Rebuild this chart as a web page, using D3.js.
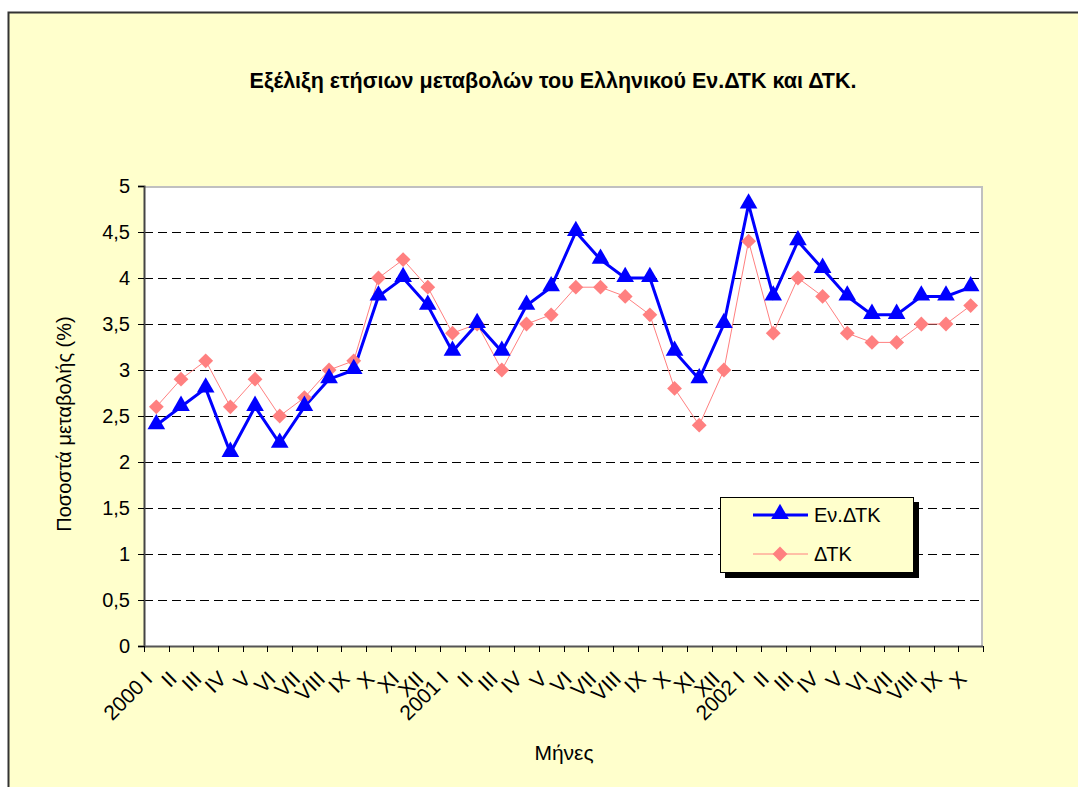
<!DOCTYPE html>
<html>
<head>
<meta charset="utf-8">
<script src="https://cdn.jsdelivr.net/npm/d3@7"></script>
<style>
  body { margin: 0; background: #fff; }
  text { font-family: "Liberation Sans", Arial, sans-serif; fill: #000; }
</style>
</head>
<body>
<div id="chart"></div>
<script>
const width = 1078;
const height = 787;

// month labels (roman numerals) and the year on the first month
const years = ['2000', '2001', '2002'];
const months = ['I', 'II', 'III', 'IV', 'V', 'VI', 'VII', 'VIII', 'IX', 'X', 'XI', 'XII'];
const categories = [];
years.forEach(function (yr, k) {
  const n = k == 2 ? 10 : 12;
  for (let m = 0; m < n; m++) categories.push(m == 0 ? yr + ' ' + months[m] : months[m]);
});

// Εν.ΔΤΚ
const enDTK = [2.4, 2.6, 2.8, 2.1, 2.6, 2.2, 2.6, 2.9, 3.0, 3.8, 4.0, 3.7,
  3.2, 3.5, 3.2, 3.7, 3.9, 4.5, 4.2, 4.0, 4.0, 3.2, 2.9, 3.5,
  4.8, 3.8, 4.4, 4.1, 3.8, 3.6, 3.6, 3.8, 3.8, 3.9];
// ΔΤΚ
const dtk = [2.6, 2.9, 3.1, 2.6, 2.9, 2.5, 2.7, 3.0, 3.1, 4.0, 4.2, 3.9,
  3.4, 3.5, 3.0, 3.5, 3.6, 3.9, 3.9, 3.8, 3.6, 2.8, 2.4, 3.0,
  4.4, 3.4, 4.0, 3.8, 3.4, 3.3, 3.3, 3.5, 3.5, 3.7];

const yTicks = [0, 0.5, 1, 1.5, 2, 2.5, 3, 3.5, 4, 4.5, 5];

const plot = { left: 144, top: 186, right: 983, bottom: 646 };

const svg = d3.select('#chart').append('svg')
  .attr('width', width)
  .attr('height', height);

//outer frame
svg.append('rect')
  .attr('x', 8.5).attr('y', 12.5)
  .attr('width', 1200).attr('height', 900)
  .attr('fill', '#ffffcc')
  .attr('stroke', '#333').attr('stroke-width', 2);

//plot area
svg.append('rect')
  .attr('x', plot.left).attr('y', plot.top)
  .attr('width', plot.right - plot.left).attr('height', plot.bottom - plot.top)
  .attr('fill', '#fff');
svg.append('path')
  .attr('d', 'M' + plot.left + ',' + (plot.top + 1) + 'H' + (plot.right - 1) + 'V' + plot.bottom)
  .attr('fill', 'none').attr('stroke', '#c0c0c0').attr('stroke-width', 2);

//scales
const x = d3.scaleBand().domain(d3.range(categories.length)).range([plot.left, plot.right]);
const y = d3.scaleLinear().domain([0, 5]).range([plot.bottom, plot.top]);
const cx = i => x(i) + x.bandwidth() / 2;

//gridlines
svg.append('g').selectAll('line')
  .data(yTicks.filter(d => d > 0 && d < 5))
  .enter().append('line')
  .attr('x1', plot.left).attr('x2', plot.right - 2)
  .attr('y1', d => Math.round(y(d)) + 0.5).attr('y2', d => Math.round(y(d)) + 0.5)
  .attr('stroke', '#000').attr('stroke-dasharray', '9,5');

//y axis
const yAxis = svg.append('g')
  .attr('transform', 'translate(' + plot.left + ',0)')
  .call(d3.axisLeft(y).tickValues(yTicks).tickSize(6).tickPadding(8)
    .tickFormat(d => String(d).replace('.', ',')));
yAxis.select('.domain').attr('stroke', '#444').attr('stroke-width', 2);
yAxis.selectAll('.tick line').attr('stroke', '#000');
yAxis.selectAll('text').style('font-size', '20px')
  .style('font-family', '"Liberation Sans", Arial, sans-serif');

//x axis
const xg = svg.append('g');
xg.append('line')
  .attr('x1', plot.left).attr('x2', plot.right)
  .attr('y1', plot.bottom + 0.5).attr('y2', plot.bottom + 0.5)
  .attr('stroke', '#555').attr('stroke-width', 2);
xg.selectAll('.xtick')
  .data(d3.range(categories.length + 1))
  .enter().append('line')
  .attr('class', 'xtick')
  .attr('x1', i => Math.round(i < categories.length ? x(i) : plot.right) + 0.5)
  .attr('x2', i => Math.round(i < categories.length ? x(i) : plot.right) + 0.5)
  .attr('y1', plot.bottom).attr('y2', plot.bottom + 6)
  .attr('stroke', '#000');
xg.selectAll('.xlabel')
  .data(categories)
  .enter().append('text')
  .attr('class', 'xlabel')
  .attr('transform', (d, i) => 'translate(' + (cx(i) - 8) + ',' + (plot.bottom + 29) + ') rotate(-45)')
  .attr('text-anchor', 'end')
  .attr('dy', '0.35em')
  .style('font-size', '21px')
  .text(d => d);

//lines
const line = d3.line().x((d, i) => cx(i)).y(d => y(d));

svg.append('path').datum(dtk)
  .attr('d', line).attr('fill', 'none')
  .attr('stroke', '#ff8080').attr('stroke-width', 1);
svg.append('path').datum(enDTK)
  .attr('d', line).attr('fill', 'none')
  .attr('stroke', '#0000ff').attr('stroke-width', 3);

const diamond = d3.symbol().type(d3.symbolSquare).size(110);
const triangle = d3.symbol().type(d3.symbolTriangle).size(135);

svg.append('g').selectAll('path')
  .data(dtk).enter().append('path')
  .attr('d', diamond)
  .attr('transform', (d, i) => 'translate(' + cx(i) + ',' + y(d) + ') rotate(45)')
  .attr('fill', '#ff8080');
svg.append('g').selectAll('path')
  .data(enDTK).enter().append('path')
  .attr('d', triangle)
  .attr('transform', (d, i) => 'translate(' + cx(i) + ',' + (y(d) - 1) + ')')
  .attr('fill', '#0000ff');

//title
svg.append('text')
  .attr('x', 553).attr('y', 88)
  .attr('text-anchor', 'middle')
  .style('font-size', '21.5px').style('font-weight', 'bold')
  .text('Εξέλιξη ετήσιων μεταβολών του Ελληνικού Εν.ΔΤΚ και ΔΤΚ.');

//axis titles
svg.append('text')
  .attr('transform', 'translate(71,' + 424 + ') rotate(-90)')
  .attr('text-anchor', 'middle')
  .style('font-size', '20px')
  .text('Ποσοστά μεταβολής (%)');
svg.append('text')
  .attr('x', 564).attr('y', 760)
  .attr('text-anchor', 'middle')
  .style('font-size', '21px')
  .text('Μήνες');

//legend
const lg = svg.append('g').attr('transform', 'translate(720,497)');
lg.append('rect').attr('x', 5).attr('y', 5).attr('width', 194).attr('height', 76).attr('fill', '#000');
lg.append('rect').attr('x', 0.5).attr('y', 0.5).attr('width', 193).attr('height', 75)
  .attr('fill', '#ffffcc').attr('stroke', '#000');
lg.append('line').attr('x1', 33).attr('x2', 88).attr('y1', 18).attr('y2', 18)
  .attr('stroke', '#0000ff').attr('stroke-width', 3);
lg.append('path').attr('d', triangle).attr('transform', 'translate(60,17)').attr('fill', '#0000ff');
lg.append('text').attr('x', 94).attr('y', 25).style('font-size', '20px').text('Εν.ΔΤΚ');
lg.append('line').attr('x1', 33).attr('x2', 88).attr('y1', 57).attr('y2', 57)
  .attr('stroke', '#ff8080').attr('stroke-width', 1);
lg.append('path').attr('d', diamond).attr('transform', 'translate(60,57) rotate(45)').attr('fill', '#ff8080');
lg.append('text').attr('x', 94).attr('y', 64).style('font-size', '20px').text('ΔΤΚ');
</script>
</body>
</html>
